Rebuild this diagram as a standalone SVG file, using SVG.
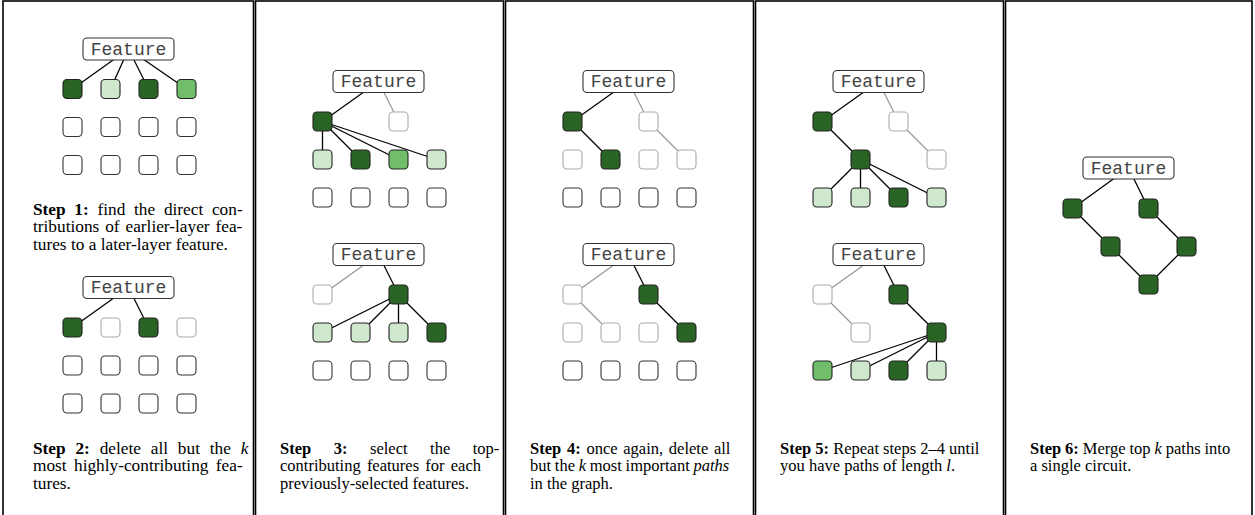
<svg xmlns="http://www.w3.org/2000/svg" width="1255" height="515" viewBox="0 0 1255 515">
<style>
.panel{fill:#fff;stroke:#000;stroke-width:1.6}
.n{stroke:#222;stroke-width:1.1}
.dk{fill:#2a6424}
.lt{fill:#cfe7cc}
.md{fill:#70be6a}
.em{fill:#fff;stroke:#333}
.fd{fill:#fff;stroke:#aaa}
.fb{fill:#fff;stroke:#333;stroke-width:1.1}
.ft{font-family:"Liberation Mono",monospace;font-size:18px;fill:#444;text-anchor:middle}
.c{stroke:#000;stroke-width:1.3;fill:none}
.g{stroke:#999;stroke-width:1.3;fill:none}
.t{font-family:"Liberation Serif","Times New Roman",serif;font-size:16.5px;fill:#000}
.t1{font-size:17.3px}
.b{font-weight:bold}
.i{font-style:italic}
</style>
<defs>
<rect id="nd" x="-9.5" y="-9.5" width="19" height="19" rx="4"/>
</defs>
<g id="panels">
<rect class="panel" x="3" y="1" width="250.5" height="530"/>
<rect class="panel" x="255.5" y="1" width="248" height="530"/>
<rect class="panel" x="505.5" y="1" width="248" height="530"/>
<rect class="panel" x="755.5" y="1" width="248" height="530"/>
<rect class="panel" x="1005.5" y="1" width="246.5" height="530"/>
</g>
<g id="connectors">
<line class="c" x1="128.5" y1="49" x2="72.5" y2="89"/>
<line class="c" x1="128.5" y1="49" x2="110.5" y2="89"/>
<line class="c" x1="128.5" y1="49" x2="148.5" y2="89"/>
<line class="c" x1="128.5" y1="49" x2="186.5" y2="89"/>
<line class="c" x1="128.5" y1="287.5" x2="72.5" y2="327.5"/>
<line class="c" x1="128.5" y1="287.5" x2="148.5" y2="327.5"/>
<line class="c" x1="378.5" y1="81.5" x2="322.5" y2="121.5"/>
<line class="g" x1="378.5" y1="81.5" x2="398.5" y2="121.5"/>
<line class="c" x1="322.5" y1="121.5" x2="322.5" y2="159.5"/>
<line class="c" x1="322.5" y1="121.5" x2="360.5" y2="159.5"/>
<line class="c" x1="322.5" y1="121.5" x2="398.5" y2="159.5"/>
<line class="c" x1="322.5" y1="121.5" x2="436.5" y2="159.5"/>
<line class="g" x1="378.5" y1="254.5" x2="322.5" y2="294.5"/>
<line class="c" x1="378.5" y1="254.5" x2="398.5" y2="294.5"/>
<line class="c" x1="398.5" y1="294.5" x2="322.5" y2="332.5"/>
<line class="c" x1="398.5" y1="294.5" x2="360.5" y2="332.5"/>
<line class="c" x1="398.5" y1="294.5" x2="398.5" y2="332.5"/>
<line class="c" x1="398.5" y1="294.5" x2="436.5" y2="332.5"/>
<line class="c" x1="628.5" y1="81.5" x2="572.5" y2="121.5"/>
<line class="g" x1="628.5" y1="81.5" x2="648.5" y2="121.5"/>
<line class="c" x1="572.5" y1="121.5" x2="610.5" y2="159.5"/>
<line class="g" x1="648.5" y1="121.5" x2="686.5" y2="159.5"/>
<line class="g" x1="628.5" y1="254.5" x2="572.5" y2="294.5"/>
<line class="c" x1="628.5" y1="254.5" x2="648.5" y2="294.5"/>
<line class="g" x1="572.5" y1="294.5" x2="610.5" y2="332.5"/>
<line class="c" x1="648.5" y1="294.5" x2="686.5" y2="332.5"/>
<line class="c" x1="878.5" y1="81.5" x2="822.5" y2="121.5"/>
<line class="g" x1="878.5" y1="81.5" x2="898.5" y2="121.5"/>
<line class="c" x1="822.5" y1="121.5" x2="860.5" y2="159.5"/>
<line class="g" x1="898.5" y1="121.5" x2="936.5" y2="159.5"/>
<line class="c" x1="860.5" y1="159.5" x2="822.5" y2="197.5"/>
<line class="c" x1="860.5" y1="159.5" x2="860.5" y2="197.5"/>
<line class="c" x1="860.5" y1="159.5" x2="898.5" y2="197.5"/>
<line class="c" x1="860.5" y1="159.5" x2="936.5" y2="197.5"/>
<line class="g" x1="878.5" y1="254.5" x2="822.5" y2="294.5"/>
<line class="c" x1="878.5" y1="254.5" x2="898.5" y2="294.5"/>
<line class="g" x1="822.5" y1="294.5" x2="860.5" y2="332.5"/>
<line class="c" x1="898.5" y1="294.5" x2="936.5" y2="332.5"/>
<line class="c" x1="936.5" y1="332.5" x2="822.5" y2="370.5"/>
<line class="c" x1="936.5" y1="332.5" x2="860.5" y2="370.5"/>
<line class="c" x1="936.5" y1="332.5" x2="898.5" y2="370.5"/>
<line class="c" x1="936.5" y1="332.5" x2="936.5" y2="370.5"/>
<line class="c" x1="1128.5" y1="168" x2="1072.5" y2="208.5"/>
<line class="c" x1="1128.5" y1="168" x2="1148.5" y2="208.5"/>
<line class="c" x1="1072.5" y1="208.5" x2="1110.5" y2="246.5"/>
<line class="c" x1="1148.5" y1="208.5" x2="1186.5" y2="246.5"/>
<line class="c" x1="1110.5" y1="246.5" x2="1148.5" y2="284.5"/>
<line class="c" x1="1186.5" y1="246.5" x2="1148.5" y2="284.5"/>
</g>
<g id="p1-top">
<rect class="fb" x="83" y="38" width="91" height="22" rx="4"/><text class="ft" x="128.5" y="54.5">Feature</text>
<use href="#nd" class="n dk" x="72.5" y="89"/><use href="#nd" class="n lt" x="110.5" y="89"/><use href="#nd" class="n dk" x="148.5" y="89"/><use href="#nd" class="n md" x="186.5" y="89"/>
<use href="#nd" class="n em" x="72.5" y="127"/><use href="#nd" class="n em" x="110.5" y="127"/><use href="#nd" class="n em" x="148.5" y="127"/><use href="#nd" class="n em" x="186.5" y="127"/>
<use href="#nd" class="n em" x="72.5" y="165"/><use href="#nd" class="n em" x="110.5" y="165"/><use href="#nd" class="n em" x="148.5" y="165"/><use href="#nd" class="n em" x="186.5" y="165"/>
<text class="t t1" x="33" y="215" word-spacing="4.4"><tspan class="b">Step 1:</tspan> find the direct con-</text>
<text class="t t1" x="33" y="232.3" word-spacing="1.6">tributions of earlier-layer fea-</text>
<text class="t t1" x="33" y="249.6">tures to a later-layer feature.</text>
</g>
<g id="p1-bottom">
<rect class="fb" x="83" y="276.5" width="91" height="22" rx="4"/><text class="ft" x="128.5" y="293">Feature</text>
<use href="#nd" class="n dk" x="72.5" y="327.5"/><use href="#nd" class="n fd" x="110.5" y="327.5"/><use href="#nd" class="n dk" x="148.5" y="327.5"/><use href="#nd" class="n fd" x="186.5" y="327.5"/>
<use href="#nd" class="n em" x="72.5" y="365.5"/><use href="#nd" class="n em" x="110.5" y="365.5"/><use href="#nd" class="n em" x="148.5" y="365.5"/><use href="#nd" class="n em" x="186.5" y="365.5"/>
<use href="#nd" class="n em" x="72.5" y="403.5"/><use href="#nd" class="n em" x="110.5" y="403.5"/><use href="#nd" class="n em" x="148.5" y="403.5"/><use href="#nd" class="n em" x="186.5" y="403.5"/>
<text class="t t1" x="33" y="454" word-spacing="5.5"><tspan class="b">Step 2:</tspan> delete all but the <tspan class="i">k</tspan></text>
<text class="t t1" x="33" y="471.3" word-spacing="3.1">most highly-contributing fea-</text>
<text class="t t1" x="33" y="488.6">tures.</text>
</g>
<g id="p2-top">
<rect class="fb" x="333" y="70.5" width="91" height="22" rx="4"/><text class="ft" x="378.5" y="87">Feature</text>
<use href="#nd" class="n dk" x="322.5" y="121.5"/><use href="#nd" class="n fd" x="398.5" y="121.5"/>
<use href="#nd" class="n lt" x="322.5" y="159.5"/><use href="#nd" class="n dk" x="360.5" y="159.5"/><use href="#nd" class="n md" x="398.5" y="159.5"/><use href="#nd" class="n lt" x="436.5" y="159.5"/>
<use href="#nd" class="n em" x="322.5" y="197.5"/><use href="#nd" class="n em" x="360.5" y="197.5"/><use href="#nd" class="n em" x="398.5" y="197.5"/><use href="#nd" class="n em" x="436.5" y="197.5"/>
</g>
<g id="p2-bottom">
<rect class="fb" x="333" y="243.5" width="91" height="22" rx="4"/><text class="ft" x="378.5" y="260">Feature</text>
<use href="#nd" class="n fd" x="322.5" y="294.5"/><use href="#nd" class="n dk" x="398.5" y="294.5"/>
<use href="#nd" class="n lt" x="322.5" y="332.5"/><use href="#nd" class="n lt" x="360.5" y="332.5"/><use href="#nd" class="n lt" x="398.5" y="332.5"/><use href="#nd" class="n dk" x="436.5" y="332.5"/>
<use href="#nd" class="n em" x="322.5" y="370.5"/><use href="#nd" class="n em" x="360.5" y="370.5"/><use href="#nd" class="n em" x="398.5" y="370.5"/><use href="#nd" class="n em" x="436.5" y="370.5"/>
<text class="t" x="280" y="454" word-spacing="18.4"><tspan class="b">Step 3:</tspan> select the top-</text>
<text class="t" x="280" y="471.3" word-spacing="2.1">contributing features for each</text>
<text class="t" x="280" y="488.6">previously-selected features.</text>
</g>
<g id="p3-top">
<rect class="fb" x="583" y="70.5" width="91" height="22" rx="4"/><text class="ft" x="628.5" y="87">Feature</text>
<use href="#nd" class="n dk" x="572.5" y="121.5"/><use href="#nd" class="n fd" x="648.5" y="121.5"/>
<use href="#nd" class="n fd" x="572.5" y="159.5"/><use href="#nd" class="n dk" x="610.5" y="159.5"/><use href="#nd" class="n fd" x="648.5" y="159.5"/><use href="#nd" class="n fd" x="686.5" y="159.5"/>
<use href="#nd" class="n em" x="572.5" y="197.5"/><use href="#nd" class="n em" x="610.5" y="197.5"/><use href="#nd" class="n em" x="648.5" y="197.5"/><use href="#nd" class="n em" x="686.5" y="197.5"/>
</g>
<g id="p3-bottom">
<rect class="fb" x="583" y="243.5" width="91" height="22" rx="4"/><text class="ft" x="628.5" y="260">Feature</text>
<use href="#nd" class="n fd" x="572.5" y="294.5"/><use href="#nd" class="n dk" x="648.5" y="294.5"/>
<use href="#nd" class="n fd" x="572.5" y="332.5"/><use href="#nd" class="n fd" x="610.5" y="332.5"/><use href="#nd" class="n fd" x="648.5" y="332.5"/><use href="#nd" class="n dk" x="686.5" y="332.5"/>
<use href="#nd" class="n em" x="572.5" y="370.5"/><use href="#nd" class="n em" x="610.5" y="370.5"/><use href="#nd" class="n em" x="648.5" y="370.5"/><use href="#nd" class="n em" x="686.5" y="370.5"/>
<text class="t" x="530" y="454" word-spacing="1.6"><tspan class="b">Step 4:</tspan> once again, delete all</text>
<text class="t" x="530" y="471.3" word-spacing="-0.4">but the <tspan class="i">k</tspan> most important <tspan class="i">paths</tspan></text>
<text class="t" x="530" y="488.6">in the graph.</text>
</g>
<g id="p4-top">
<rect class="fb" x="833" y="70.5" width="91" height="22" rx="4"/><text class="ft" x="878.5" y="87">Feature</text>
<use href="#nd" class="n dk" x="822.5" y="121.5"/><use href="#nd" class="n fd" x="898.5" y="121.5"/>
<use href="#nd" class="n dk" x="860.5" y="159.5"/><use href="#nd" class="n fd" x="936.5" y="159.5"/>
<use href="#nd" class="n lt" x="822.5" y="197.5"/><use href="#nd" class="n lt" x="860.5" y="197.5"/><use href="#nd" class="n dk" x="898.5" y="197.5"/><use href="#nd" class="n lt" x="936.5" y="197.5"/>
</g>
<g id="p4-bottom">
<rect class="fb" x="833" y="243.5" width="91" height="22" rx="4"/><text class="ft" x="878.5" y="260">Feature</text>
<use href="#nd" class="n fd" x="822.5" y="294.5"/><use href="#nd" class="n dk" x="898.5" y="294.5"/>
<use href="#nd" class="n fd" x="860.5" y="332.5"/><use href="#nd" class="n dk" x="936.5" y="332.5"/>
<use href="#nd" class="n md" x="822.5" y="370.5"/><use href="#nd" class="n lt" x="860.5" y="370.5"/><use href="#nd" class="n dk" x="898.5" y="370.5"/><use href="#nd" class="n lt" x="936.5" y="370.5"/>
<text class="t" x="780" y="454"><tspan class="b">Step 5:</tspan> Repeat steps 2–4 until</text>
<text class="t" x="780" y="471.3">you have paths of length <tspan class="i">l</tspan>.</text>
</g>
<g id="p5">
<rect class="fb" x="1083" y="157" width="91" height="22" rx="4"/><text class="ft" x="1128.5" y="173.5">Feature</text>
<use href="#nd" class="n dk" x="1072.5" y="208.5"/><use href="#nd" class="n dk" x="1148.5" y="208.5"/>
<use href="#nd" class="n dk" x="1110.5" y="246.5"/><use href="#nd" class="n dk" x="1186.5" y="246.5"/>
<use href="#nd" class="n dk" x="1148.5" y="284.5"/>
<text class="t" x="1030" y="454" word-spacing="-0.2"><tspan class="b">Step 6:</tspan> Merge top <tspan class="i">k</tspan> paths into</text>
<text class="t" x="1030" y="471.3">a single circuit.</text>
</g>
</svg>
